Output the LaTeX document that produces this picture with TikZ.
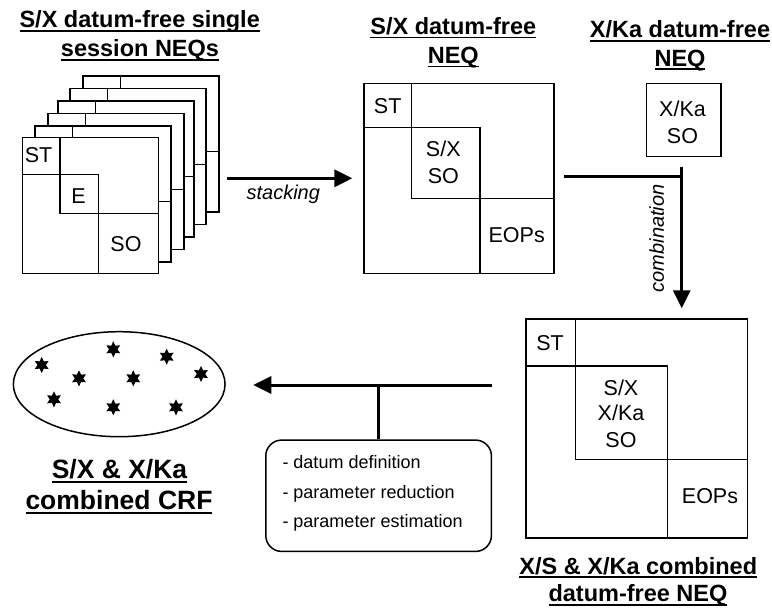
\documentclass[tikz,border=0pt]{standalone}
\usepackage{fontspec}
\setmainfont{Liberation Sans}
\usetikzlibrary{arrows.meta,shapes.geometric}

% underline drawn at a fixed depth below the baseline
\newcommand\ulbox[1]{\setbox0\hbox{#1}\rlap{\rule[-0.17em]{\wd0}{0.07em}}\box0}

\begin{document}
\begin{tikzpicture}[x=1pt,y=-1pt,
  grid/.style={line width=1.5pt},
  cell/.style={font=\fontsize{21.5}{26}\selectfont, inner sep=0pt, anchor=base},
  title/.style={font=\bfseries\fontsize{23.5}{27}\selectfont, inner sep=0pt, anchor=base},
  bigtitle/.style={font=\bfseries\fontsize{26.5}{31}\selectfont, inner sep=0pt, anchor=base},
  flow/.style={line width=3pt},
  arr/.style={flow, -{Triangle[length=18pt,width=17pt]}},
  note/.style={font=\fontsize{18}{22}\selectfont, inner sep=0pt, anchor=base west},
  verb/.style={font=\itshape\fontsize{20}{24}\selectfont, inner sep=0pt},
  twinkle/.style={star, star points=6, star point ratio=1.9, fill=black, inner sep=0pt, minimum size=16pt},
  layer/.style={grid, draw, fill=white, minimum size=136pt, inner sep=0pt, anchor=north west},
]
\useasboundingbox[fill=white] (0,0) rectangle (772,608);

% ---- stack of single-session NEQs (drawn back to front)
\foreach \i/\lx/\ly in {6/82.3/75, 5/69.3/87.7, 4/57.3/100, 3/47.3/112.7, 2/34.3/125, 1/21.7/136.7} {
  \node[layer] (layer\i) at (\lx,\ly) {};
  \draw[grid] (\lx+38.3,\ly) -- (\lx+38.3,\ly+76.6) -- (\lx+136,\ly+76.6);
  \draw[grid] (\lx,\ly+37.6) -- (\lx+76.6,\ly+37.6) -- (\lx+76.6,\ly+136);
}
\node[cell] (st1) at (38.5,162) {ST};
\node[cell] (e1) at (78.5,203) {E};
\node[cell] (so1) at (126,251) {SO};

\node[title] (t1a) at (139.7,27.7) {\ulbox{S/X datum-free single}};
\node[title] (t1b) at (140,56.7) {\ulbox{session NEQs}};

% ---- stacked S/X NEQ
\node[grid, draw, minimum size=190pt, inner sep=0pt, anchor=north west] (m2) at (363.3,82.7) {};
\draw[grid] (411.7,82.7) -- (411.7,198.3) -- (553.3,198.3);
\draw[grid] (363.3,127.7) -- (480,127.7) -- (480,273.3);
\node[cell] (st2) at (387.7,113) {ST};
\node[cell] (sx2) at (443.3,156.5) {S/X};
\node[cell] (so2) at (443.3,183) {SO};
\node[cell] (eop2) at (516.7,242.5) {EOPs};

\node[title] (t2a) at (453.3,34.4) {\ulbox{S/X datum-free}};
\node[title] (t2b) at (453.3,63.4) {\ulbox{NEQ}};

% ---- X/Ka NEQ
\node[grid, draw, minimum width=74.3pt, minimum height=73pt, inner sep=0pt, anchor=north west] (xka) at (645.7,82.7) {};
\node[cell] (xka1) at (682.5,116.5) {X/Ka};
\node[cell] (xka2) at (682.5,143) {SO};

\node[title] (t3a) at (680,37.7) {\ulbox{X/Ka datum-free}};
\node[title] (t3b) at (680,66) {\ulbox{NEQ}};

% ---- combined NEQ
\node[grid, draw, minimum width=221.7pt, minimum height=219pt, inner sep=0pt, anchor=north west] (m3) at (525,318.3) {};
\draw[grid] (575.7,318.3) -- (575.7,459.3) -- (746.7,459.3);
\draw[grid] (525,366) -- (667.3,366) -- (667.3,537.3);
\node[cell] (st3) at (550,350.5) {ST};
\node[cell] (sx3) at (621,395) {S/X};
\node[cell] (xk3) at (621,420) {X/Ka};
\node[cell] (so3) at (621,447) {SO};
\node[cell] (eop3) at (710,503) {EOPs};

\node[title] (t4a) at (638.3,574) {\ulbox{X/S \& X/Ka combined}};
\node[title] (t4b) at (638,601.7) {\ulbox{datum-free NEQ}};

% ---- stacking
\coordinate (stackout) at (227.3,178.3);
\draw[arr, shorten >=11pt] (stackout) -- (stackout -| m2.west);
\node[verb, anchor=base] (stk) at (283.3,199.3) {stacking};

% ---- combination
\coordinate (combout) at (564.3,176.5);
\coordinate (join) at (681.7,176.5);
\coordinate (jointop) at (681.7,166.7);
\draw[flow] (combout) -- (join);
\draw[arr, shorten >=10pt] (jointop) -- (jointop |- m3.north);
\node[verb, rotate=90] (comb) at (656.7,238.3) {combination};

% ---- CRF
\node[ellipse, grid, draw, minimum width=211.7pt, minimum height=105pt, inner sep=0pt] (crf) at (119.2,384.2) {};
\foreach \sx/\sy in {41.7/365, 113.3/349.3, 166.7/356.7, 79/378.3, 133.3/378.3, 201/374, 54/399.3, 113.3/407.3, 176/407.3}
  \node[twinkle] at (\sx,\sy) {};

\node[bigtitle] (t5a) at (119.5,478.6) {\ulbox{S/X \& X/Ka}};
\node[bigtitle] (t5b) at (119,509.6) {\ulbox{combined CRF}};

% ---- estimation step
\node[grid, draw, rounded corners=16pt, minimum width=225.7pt, minimum height=111.4pt, inner sep=0pt, anchor=north west] (steps) at (265,439.3) {};
\node[note] (n1) at (282.3,468.3) {- datum definition};
\node[note] (n2) at (282.3,498.3) {- parameter reduction};
\node[note] (n3) at (282.3,527.7) {- parameter estimation};

\coordinate (estin) at (491.7,385);
\coordinate (esttip) at (253.3,385);
\draw[arr] (estin) -- (esttip);
\draw[flow] (steps.north) -- (steps.north |- estin);
\end{tikzpicture}
\end{document}
